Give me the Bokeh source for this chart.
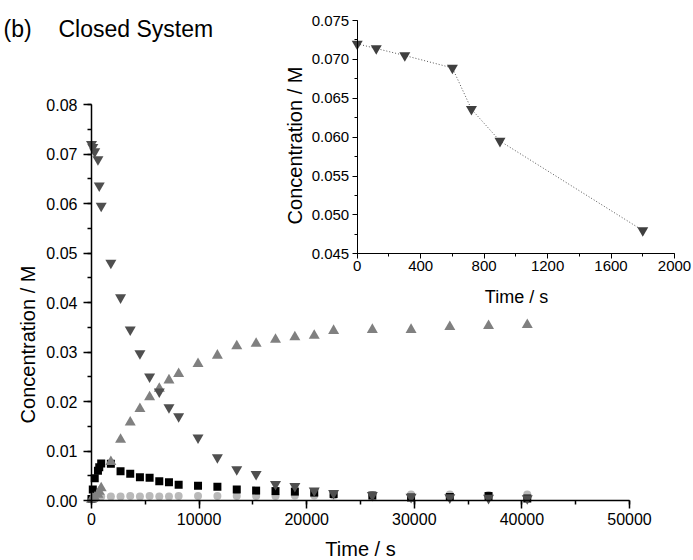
from bokeh.plotting import figure
from bokeh.models import Range1d, LinearAxis, SingleIntervalTicker, NumeralTickFormatter, Label
from bokeh.embed import file_html
from bokeh.resources import INLINE

# ---------------- data ----------------
time_s = [0, 120, 300, 600, 720, 900, 1800, 2700, 3600, 4500, 5400, 6300, 7200, 8100,
          9900, 11700, 13500, 15300, 17100, 18900, 20700, 22500, 26100, 29700, 33300,
          36900, 40500]
reactant = [0.0720, 0.0714, 0.0705, 0.0689, 0.0636, 0.0595, 0.0480, 0.0410, 0.0345,
            0.0297, 0.0250, 0.0220, 0.0188, 0.0170, 0.0127, 0.0087, 0.0063, 0.0053,
            0.0033, 0.0029, 0.0020, 0.0015, 0.0011, 0.0007, 0.0006, 0.0005, 0.0004]
product = [0.0002, 0.0004, 0.0006, 0.0012, 0.0018, 0.0025, 0.0078, 0.0123, 0.0158,
           0.0185, 0.0209, 0.0226, 0.0243, 0.0256, 0.0276, 0.0293, 0.0312, 0.0317,
           0.0325, 0.0330, 0.0333, 0.0343, 0.0345, 0.0345, 0.0351, 0.0353, 0.0355]
intermediate = [0.0003, 0.0022, 0.0045, 0.0060, 0.0067, 0.0075, 0.0074, 0.0059, 0.0054,
                0.0047, 0.0046, 0.0039, 0.0037, 0.0032, 0.0030, 0.0028, 0.0022, 0.0020,
                0.0019, 0.0018, 0.0016, 0.0013, 0.0010, 0.0006, 0.0007, 0.0009, 0.0004]
byproduct = [0.0004, 0.0005, 0.0006, 0.0007, 0.0007, 0.0008, 0.0008, 0.0008, 0.0009,
             0.0008, 0.0009, 0.0008, 0.0008, 0.0009, 0.0009, 0.0009, 0.0009, 0.0009,
             0.0009, 0.0010, 0.0010, 0.0010, 0.0011, 0.0012, 0.0012, 0.0011, 0.0012]
inset_time = [0, 120, 300, 600, 720, 900, 1800]
inset_conc = [0.0720, 0.0714, 0.0705, 0.0689, 0.0636, 0.0595, 0.0480]

title_tag = "(b)"
title_text = "Closed System"
x_label = "Time / s"
y_label = "Concentration / M"

# ---------------- layout: the frame fills the whole figure ----------------
W, H = 693, 560

# main axes: x 0 at px 91, 50000 at px 629; y 0 at px 500, 0.08 at px 104
mx_pp = (629 - 91) / 50000
mx0 = -91 / mx_pp
main_x = Range1d(mx0, mx0 + W / mx_pp)
my_pp = (500 - 104) / 0.08
my0 = -(H - 500) / my_pp
main_y = Range1d(my0, my0 + H / my_pp)

# inset axes: x 0 at px 356.7, 2000 at px 674; y 0.045 at px 253.3, 0.075 at px 20
ix_pp = (674 - 356.7) / 2000
ix0 = -356.7 / ix_pp
inset_x = Range1d(ix0, ix0 + W / ix_pp)
iy_pp = (253.3 - 20) / 0.030
iy0 = 0.045 - (H - 253.3) / iy_pp
inset_y = Range1d(iy0, iy0 + H / iy_pp)

FONT = "Liberation Sans"

p = figure(width=W, height=H, output_backend="svg", toolbar_location=None,
           x_range=main_x, y_range=main_y,
           x_axis_location=None, y_axis_location=None,
           min_border=0, min_border_left=0, min_border_right=0,
           min_border_top=0, min_border_bottom=0)
p.extra_x_ranges = {"ix": inset_x}
p.extra_y_ranges = {"iy": inset_y}
p.grid.visible = False
p.outline_line_color = None
p.background_fill_color = "white"
p.border_fill_color = "white"


def style_axis(ax, major, minor, lw, lab_size, lab_standoff):
    ax.axis_line_color = "black"
    ax.axis_line_width = lw
    ax.major_tick_line_color = "black"
    ax.minor_tick_line_color = "black"
    ax.major_tick_line_width = lw
    ax.minor_tick_line_width = lw
    ax.major_tick_in = 0
    ax.major_tick_out = major
    ax.minor_tick_in = 0
    ax.minor_tick_out = minor
    ax.major_label_text_font = FONT
    ax.major_label_text_font_size = lab_size
    ax.major_label_text_color = "black"
    ax.major_label_standoff = lab_standoff


eps = 1e-9
# main axes
ax_y = LinearAxis(fixed_location=0, bounds=(0, 0.08 + eps),
                  ticker=SingleIntervalTicker(interval=0.01, num_minor_ticks=2),
                  formatter=NumeralTickFormatter(format="0.00"))
style_axis(ax_y, 8, 4, 1.5, "16px", 6)
p.add_layout(ax_y, "left")

ax_x = LinearAxis(fixed_location=0, bounds=(0, 50000),
                  ticker=SingleIntervalTicker(interval=10000, num_minor_ticks=2),
                  formatter=NumeralTickFormatter(format="0"))
style_axis(ax_x, 8, 4, 1.5, "16px", 4)
p.add_layout(ax_x, "below")

# inset axes
iax_y = LinearAxis(x_range_name="ix", y_range_name="iy", fixed_location=0,
                   bounds=(0.045 - eps, 0.075 + eps),
                   ticker=SingleIntervalTicker(interval=0.005, num_minor_ticks=2),
                   formatter=NumeralTickFormatter(format="0.000"))
style_axis(iax_y, 5, 3, 1, "15px", 3)
p.add_layout(iax_y, "left")

iax_x = LinearAxis(x_range_name="ix", y_range_name="iy", fixed_location=0.045,
                   bounds=(0, 2000),
                   ticker=SingleIntervalTicker(interval=400, num_minor_ticks=2),
                   formatter=NumeralTickFormatter(format="0"))
style_axis(iax_x, 5, 3, 1, "15px", 2)
p.add_layout(iax_x, "below")

# ---------------- data marks ----------------
p.scatter(time_s, byproduct, marker="circle", size=8, fill_color="#b9b9b9", line_color=None)
p.scatter(time_s, intermediate, marker="square", size=8, fill_color="black", line_color=None)
p.scatter(time_s, product, marker="triangle", size=11, fill_color="#808080", line_color=None)
p.scatter(time_s, reactant, marker="inverted_triangle", size=11, fill_color="#4f4f4f",
          line_color=None)

p.line(inset_time, inset_conc, x_range_name="ix", y_range_name="iy",
       line_color="#555555", line_width=1, line_dash="1 2")
p.scatter(inset_time, inset_conc, x_range_name="ix", y_range_name="iy",
          marker="inverted_triangle", size=11, fill_color="#3f3f3f", line_color=None)


# ---------------- texts (screen px, y measured from the bottom) ----------------
def add_text(txt, x, y, size, angle=0, align="left", baseline="alphabetic"):
    p.add_layout(Label(x=x, y=H - y, x_units="screen", y_units="screen", text=txt,
                       text_font=FONT, text_font_size=size, text_color="black",
                       text_align=align, text_baseline=baseline,
                       angle=angle, angle_units="deg"))


add_text(title_tag, 3, 28, "23px")
add_text(title_text, 58, 28, "23px")
add_text(x_label, 360, 548, "20px", align="center", baseline="middle")
add_text(y_label, 27, 344, "20px", angle=90, align="center", baseline="middle")
add_text(x_label, 516, 296, "18px", align="center", baseline="middle")
add_text(y_label, 294, 145, "20px", angle=90, align="center", baseline="middle")

open("out.html", "w").write(file_html(p, INLINE))
